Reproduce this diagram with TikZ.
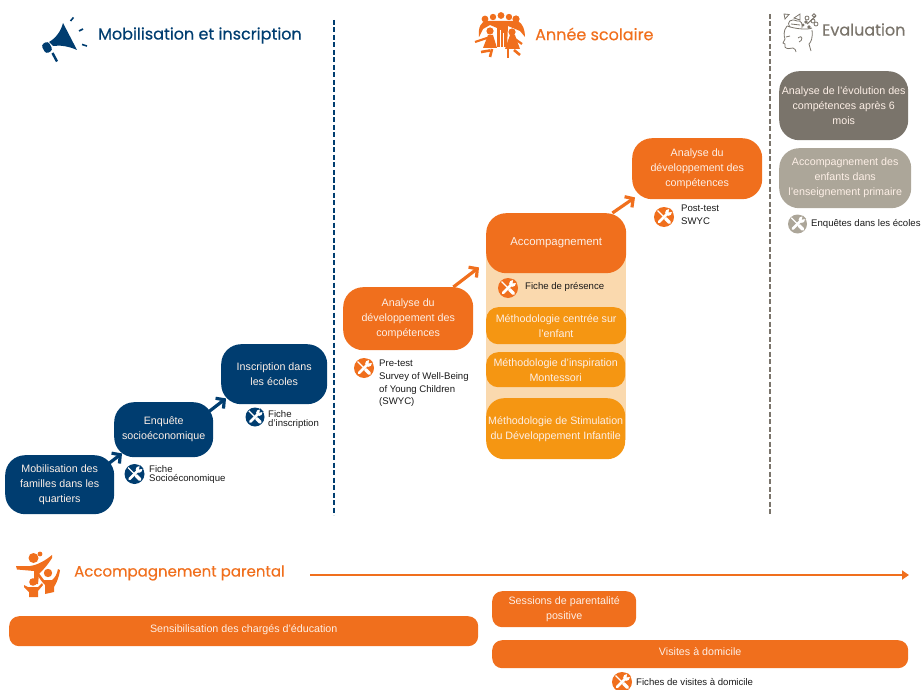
\documentclass[tikz,border=0pt]{standalone}
\usepackage{fontspec}
\setmainfont{Liberation Sans}
\newfontfamily\headfont[FakeBold=0.4]{Poppins}
\usetikzlibrary{arrows.meta,calc}
\definecolor{navy}{HTML}{003D70}
\definecolor{orng}{HTML}{F06F1D}
\definecolor{amber}{HTML}{F59612}
\definecolor{peach}{HTML}{FAD9AE}
\definecolor{dkgray}{HTML}{7A746B}
\definecolor{ltgray}{HTML}{ACA699}
\definecolor{bodytxt}{HTML}{FDEFE6}
\tikzset{
  box/.style={rounded corners=#1,draw=none,inner sep=0pt,align=center,text=bodytxt,font=\fontsize{10.7}{15}\selectfont,anchor=north west},
  box/.default=20pt,
  head/.style={font=\headfont\fontsize{16}{18}\selectfont,anchor=west,inner sep=0pt},
  lbl/.style={font=\fontsize{9.6}{#1}\selectfont,align=left,anchor=north west,inner sep=0pt,text=black!90},
  lbl/.default=9.5pt,
  stepline/.style={line width=3.2pt,-{Straight Barb[length=6pt,width=13pt,line width=3.2pt]}},
  sep/.style={line width=2pt,dash pattern=on 5pt off 2.5pt},
}
% tool icon: #1 colour, (#2,#3) centre, #4 radius
\newcommand{\toolicon}[4]{%
  \begin{scope}[shift={(#2,#3)},scale=#4/10]
    \fill[#1] (0,0) circle (10);
    \draw[white,line width=2.6pt,line cap=round] (4.5,-4.5) -- (-5,5);
    \fill[white] (4.5,-4.5) circle (3.3);
    \fill[#1] (4.6,-4.6) -- (9,-5.5) -- (5.5,-9) -- cycle;
    \draw[white,line width=1.4pt] (-6.5,-6.5) -- (0,0);
    \draw[white,line width=3.2pt,line cap=round] (1.5,1.5) -- (5.5,5.5);
  \end{scope}}
\begin{document}
\begin{tikzpicture}[x=1pt,y=-1pt]
\useasboundingbox (0,0) rectangle (921,690);
% separators
\coordinate (sa) at (334,20); \coordinate (sb) at (334,515);
\coordinate (sc) at (770,14); \coordinate (sd) at (770,515);
\draw[sep,navy] (sa) -- (sb);
\draw[sep,dkgray] (sc) -- (sd);
% headings
\node[head,text=navy] (h1) at (98,35.5) {Mobilisation et inscription};
\node[head,text=orng] (h2) at (535,34) {Année scolaire};
\node[head,text=dkgray] (h3) at (822,29.5) {Evaluation};
\node[head,text=orng,font=\headfont\fontsize{15}{18}\selectfont] (h4) at (74,573) {Accompagnement parental};
% megaphone
\begin{scope}[navy]
  \fill (49,42) .. controls (56,38) and (61,31) .. (63,23) -- (77,50) .. controls (68,46) and (60,45) .. (53,46) -- cycle;
  \fill[rounded corners=3pt] (41,45) -- (48,41) -- (53,50) -- (46,54) -- cycle;
  \draw[line width=2.4pt] (52.5,53) -- (57,61.5);
  \draw[line width=1.6pt] (70.5,21) -- (73.5,17.5);
  \draw[line width=1.6pt] (79,31) -- (83,29);
  \draw[line width=1.6pt] (82,44.5) -- (87,46);
\end{scope}
% children icon
\begin{scope}[orng]
  \fill (485,19) circle (3.4); \fill (493,17) circle (3.2); \fill (501,15.5) circle (3.4);
  \fill (509,17) circle (3.2); \fill (516,19) circle (3.6);
  \fill (479,37) .. controls (478,27) and (481,22) .. (486,21) -- (495,21) -- (508,21) -- (518,21) .. controls (523,24) and (525,30) .. (525,37) -- (520,31) -- (508,26) -- (507,47) -- (497,47) -- (497,28) -- (490,25) -- (483,29) -- cycle;
  \fill (490,31) circle (3.6); \fill (512,32) circle (3.6);
  \fill (488,35) -- (493,35) -- (497,48) -- (483,48) -- cycle;
  \fill (510,35) -- (515,35) -- (520,49) -- (505,49) -- cycle;
  \draw[line width=2.2pt] (487,38) -- (475,42);
  \draw[line width=2.2pt] (515,39) -- (522,44);
  \draw[line width=2.6pt] (481,52) -- (490,50.5);
  \draw[line width=2.6pt] (492,49) -- (490,57);
  \draw[line width=2.6pt] (508,49) -- (508,58);
  \draw[line width=2.6pt] (514,50) -- (520,55);
  \draw[white,line width=.7pt] (500,30) -- (500,47) (503,33) -- (503,47);
\end{scope}
% head icon
\begin{scope}[dkgray,line width=.8pt]
  \draw (787,26) .. controls (783,31) and (784,36) .. (785,39) -- (783,43) -- (785,44) -- (785,47) .. controls (786,49) and (790,49) .. (793,48) .. controls (795,49) and (796,50) .. (796,52);
  \draw (812,30) .. controls (813,38) and (811,42) .. (809,44) -- (811,51);
  \draw (787,26) .. controls (795,29) and (808,30) .. (812,28);
  \draw (798,38) .. controls (803,34) and (803,41) .. (799,42);
  \draw (786,37) -- (790,36);
  \draw (785,19) -- (789,14.5) -- (784,14) -- cycle;
  \draw (794,18) -- (800,14) -- (800,20) -- cycle;
  \draw (790,27) .. controls (786,22) and (791,18) .. (797,21) .. controls (801,20) and (803,24) .. (802,28);
  \draw (791,24) -- (800,25);
  \fill (806,22) circle (1.8) (809,27) circle (1.9) (803,25) circle (1.6);
  \draw[line width=1pt] (807,24) -- (816,16);
  \draw (813,21) circle (2);
  \draw (816,24) circle (2);
  \draw (807,18) circle (2);
  \draw (814,15.5) circle (1.8);
\end{scope}
% parent icon
\begin{scope}[orng]
  \fill (33.5,558) circle (5);
  \fill (40,554) circle (2.4);
  \fill (16,566) -- (30,566) .. controls (38,565) and (46,560) .. (52,555) -- (52,558) .. controls (47,566) and (42,571) .. (39,574) -- (38,584) -- (34,584) -- (34,571) -- (17,569.5) -- cycle;
  \fill (48,573) circle (4.2);
  \fill (38,572) -- (44,580) -- (52,580) .. controls (55,578) and (57,574) .. (58,569) -- (60,570) .. controls (59,578) and (56,584) .. (54,587) -- (54,592) -- (45,594) -- (45,585) .. controls (42,582) and (39,578) .. (37,574) -- cycle;
  \fill (33,582) circle (3.8);
  \fill (24,585) -- (28,587) -- (38,587) -- (42,583) -- (43,585) -- (38,591) -- (38,597) -- (29,597) -- (29,592) -- (24,587) -- cycle;
\end{scope}
% timeline
\coordinate (ta) at (310,575);
\coordinate (tb) at (909,575);
\draw[orng,line width=1.8pt,-{Triangle[length=7pt,width=9pt]}] (ta) -- (tb);
% peach background
\fill[peach] (486,240) rectangle (626,440);
% boxes
\node[box,fill=navy,minimum width=109pt,minimum height=59pt] (n1) at (5,455) {Mobilisation des\\familles dans les\\quartiers};
\node[box,fill=navy,minimum width=99pt,minimum height=55pt] (n2) at (114,402) {Enquête\\socioéconomique};
\node[box,fill=navy,minimum width=106pt,minimum height=60pt] (n3) at (221,344) {Inscription dans\\les écoles};
\node[box,fill=orng,minimum width=130pt,minimum height=63pt] (a1) at (343,287) {Analyse du\\développement des\\compétences};
\node[box,fill=orng,font=\fontsize{11.4}{15}\selectfont,minimum width=140pt,minimum height=60pt] (a2) at (486,213) {Accompagnement};
\node[box=12pt,fill=amber,minimum width=140pt,minimum height=37pt] (m1) at (486,307) {Méthodologie centrée sur\\l'enfant};
\node[box=12pt,fill=amber,minimum width=139pt,minimum height=35pt] (m2) at (486,352) {Méthodologie d'inspiration\\Montessori};
\node[box=18pt,fill=amber,minimum width=139pt,minimum height=61pt] (m3) at (486,398) {Méthodologie de Stimulation\\du Développement Infantile};
\node[box,fill=orng,minimum width=130pt,minimum height=61pt] (a3) at (632,138) {Analyse du\\développement des\\compétences};
\node[box,fill=dkgray,minimum width=129pt,minimum height=69pt] (e1) at (779,71) {Analyse de l'évolution des\\compétences après 6\\mois};
\node[box,fill=ltgray,minimum width=132pt,minimum height=60pt] (e2) at (779,148) {Accompagnement des\\enfants dans\\l'enseignement primaire};
\node[box=10pt,fill=orng,minimum width=469pt,minimum height=30pt,text depth=6pt] (s1) at (9,616) {Sensibilisation des chargés d'éducation};
\node[box=10pt,fill=orng,minimum width=144pt,minimum height=36pt] (s2) at (492,591) {Sessions de parentalité\\positive};
\node[box=10pt,fill=orng,minimum width=416pt,minimum height=28pt,text depth=6pt] (s3) at (492,640) {Visites à domicile};
% step arrows
\draw[stepline,navy] ($(n1.north east)+(-5,8)$) -- ($(n2.south west)+(8,-4)$);
\draw[stepline,navy] ($(n2.north east)+(-5,10)$) -- ($(n3.south west)+(5,-6)$);
\draw[stepline,orng] ($(a1.north east)+(-20,0)$) -- ($(a2.south west)+(-7,-6)$);
\draw[stepline,orng] ($(a2.north east)+(-14,0)$) -- ($(a3.south west)+(3,-2)$);
% tools
\toolicon{navy}{134.5}{474}{10}
\toolicon{navy}{255}{417}{9.5}
\toolicon{orng}{364}{368}{10}
\toolicon{orng}{508}{288}{10}
\toolicon{orng}{664}{217}{10}
\toolicon{ltgray}{797.5}{224}{9.5}
\toolicon{orng}{622}{682}{10}
% labels
\node[lbl] (l1) at (149,465) {Fiche\\Socioéconomique};
\node[lbl] (l2) at (268,410) {Fiche\\d'inscription};
\node[lbl=12.6pt] (l3) at (379,360) {Pre-test\\Survey of Well-Being\\of Young Children\\(SWYC)};
\node[lbl] (l4) at (525,282) {Fiche de présence};
\node[lbl=13pt] (l5) at (681,205) {Post-test\\SWYC};
\node[lbl] (l6) at (811,219) {Enquêtes dans les écoles};
\node[lbl] (l7) at (636,678) {Fiches de visites à domicile};
\end{tikzpicture}
\end{document}
